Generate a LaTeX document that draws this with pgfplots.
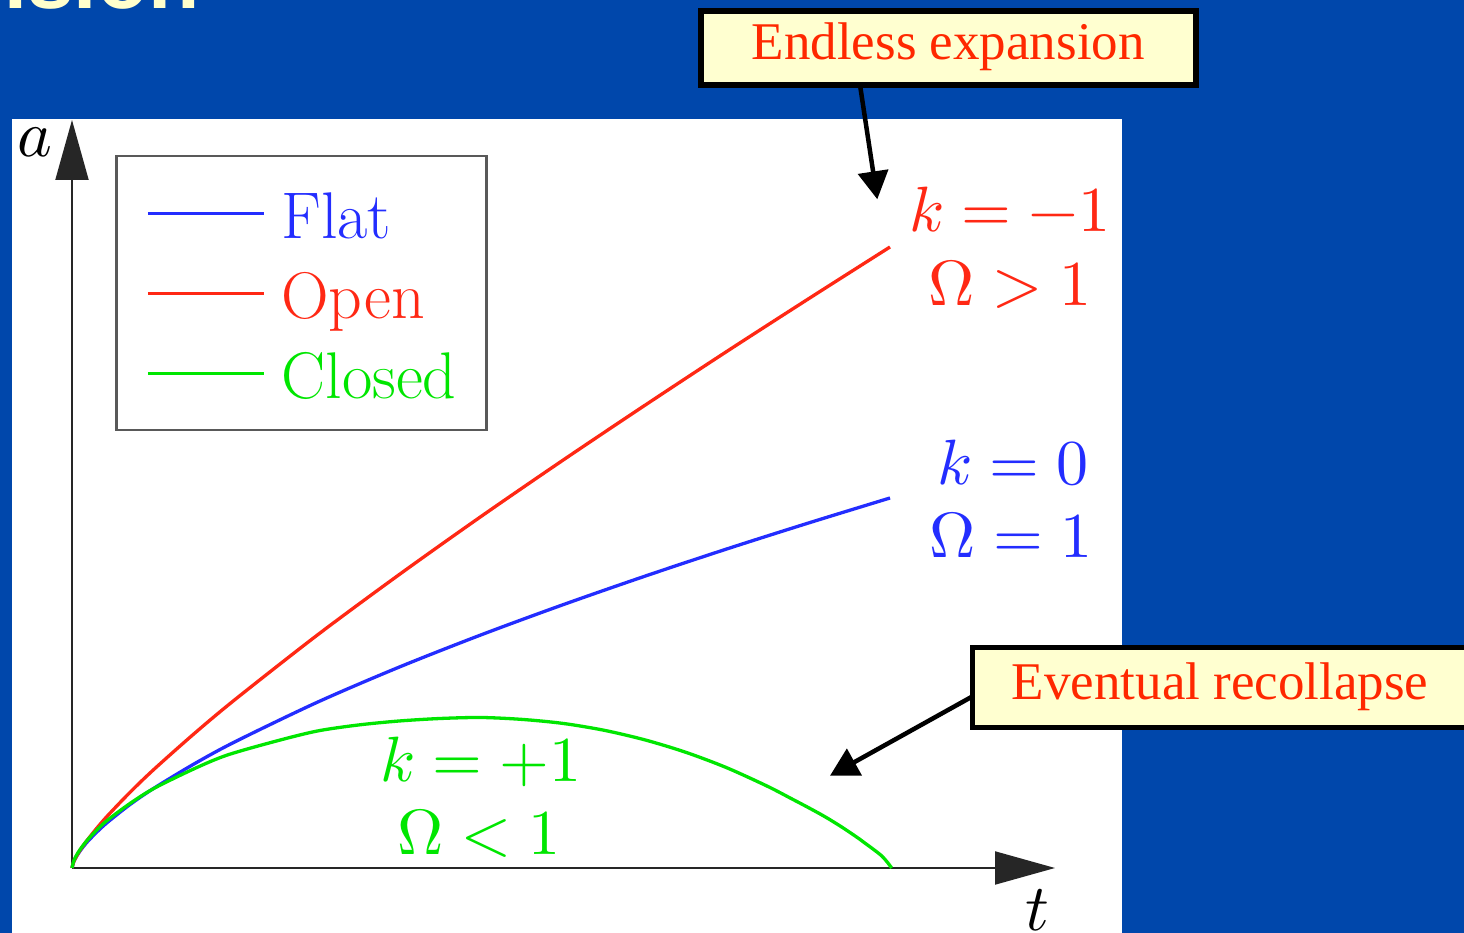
\documentclass[border=0pt]{standalone}
\usepackage{fontspec}
\usepackage{unicode-math}
\setmathfont{Latin Modern Math}
\newfontfamily\timesfont{Liberation Serif}
\newfontfamily\arialfont{Liberation Sans}
\usepackage{pgfplots}
\pgfplotsset{compat=1.18}
\usetikzlibrary{arrows.meta}
\definecolor{slideblue}{RGB}{0,71,171}
\definecolor{cflat}{RGB}{35,45,255}
\definecolor{copen}{RGB}{255,40,20}
\definecolor{cclosed}{RGB}{0,230,0}
\definecolor{callred}{RGB}{255,40,0}
\definecolor{callfill}{RGB}{255,255,208}
\definecolor{cream}{RGB}{255,255,204}
\newcommand\bigfont{\fontsize{64}{77}\selectfont}
\newcommand\legfont{\fontsize{66}{79}\selectfont}
\begin{document}
\begin{tikzpicture}[x=1pt,y=1pt]
\useasboundingbox (0,0) rectangle (1464,933);
\clip (0,0) rectangle (1464,933);
\fill[slideblue] (0,0) rectangle (1464,933);
\fill[white] (12,0) rectangle (1122,814);
\node[anchor=base east, text=cream, font=\arialfont\bfseries\fontsize{84}{100}\selectfont, inner sep=0pt] at (200,924) {Expansion};
\begin{axis}[
  at={(72pt,65pt)}, anchor=south west,
  scale only axis, width=983pt, height=748pt,
  xmin=0, xmax=1.2017, ymin=0, ymax=748,
  enlargelimits=false,
  axis lines=left,
  xtick=\empty, ytick=\empty,
  clip=false,
  axis line style={draw=black!85, line width=2pt, -{Triangle[length=60pt,width=33pt]}},
  every axis x label/.style={at={(axis description cs:0.9817,-0.0561)}, anchor=center},
  every axis y label/.style={at={(axis description cs:-0.0376,0.9706)}, anchor=center},
  label style={font=\legfont},
  xlabel={$t$}, ylabel={$a$},
  legend cell align=left,
  legend style={
    at={(0.04374,0.9532)}, anchor=north west,
    draw=black!65, line width=2.5pt, fill=white,
    inner xsep=30pt, inner ysep=17pt,
    column sep=16pt,
    nodes={inner sep=0pt, text height=65pt, text depth=15pt, font=\legfont},
  },
  legend image code/.code={\draw[#1, line width=3.2pt] (0pt,0pt) -- (116pt,0pt);},
]
\addplot[color=cflat, line width=3.3pt, smooth] coordinates {
(0,0) (0.002,5.9) (0.005,10.8) (0.01,17.2) (0.02,27.3) (0.04,43.3) (0.07,62.9)
(0.1,79.7) (0.15,104.4) (0.2,126.5) (0.3,165.8) (0.4,200.9) (0.5,233.1)
(0.6,263.2) (0.7,291.7) (0.8,318.9) (0.9,344.9) (1.0,370)};
\addlegendentry{\textcolor{cflat}{Flat}}
\addplot[color=copen, line width=3.3pt, smooth] coordinates {
(0,0) (0.002,6.0) (0.005,11.0) (0.01,18.0) (0.02,29.3) (0.04,49.1) (0.07,74.9)
(0.1,98.5) (0.15,134.8) (0.2,168.9) (0.3,233.0) (0.4,293.4) (0.5,351.5)
(0.6,407.7) (0.7,462.5) (0.8,516.3) (0.9,569.0) (1.0,621)};
\addlegendentry{\textcolor{copen}{Open}}
\addplot[color=cclosed, line width=3.3pt, smooth] coordinates {
(0,0) (0.002,6.7) (0.005,12.0) (0.01,18.6) (0.02,29.0) (0.04,45.5) (0.07,64.0)
(0.1,79.5) (0.15,99.5) (0.19,113) (0.25,127) (0.3,137) (0.35,143) (0.4,147)
(0.45,149.5) (0.5,150.5) (0.55,148.6) (0.6,144.6) (0.65,137.8) (0.7,128.2)
(0.75,115.8) (0.8,100.4) (0.85,81.8) (0.88,69.1) (0.9,60.5) (0.92,51.5)
(0.94,41.5) (0.96,30.5) (0.97,24.5) (0.98,18.5) (0.99,12) (0.997,5.5) (1.002,0)};
\addlegendentry{\textcolor{cclosed}{Closed}}
\end{axis}
% curve labels
\node[anchor=base, text=copen, font=\bigfont, inner sep=0pt] at (1010,701) {$k=-1$};
\node[anchor=base, text=copen, font=\bigfont, inner sep=0pt] at (1010,627) {$\Omega>1$};
\node[anchor=base, text=cflat, font=\bigfont, inner sep=0pt] at (1013,448) {$k=0$};
\node[anchor=base, text=cflat, font=\bigfont, inner sep=0pt] at (1011,375) {$\Omega=1$};
\node[anchor=base, text=cclosed, font=\bigfont, inner sep=0pt] at (481,151) {$k=+1$};
\node[anchor=base, text=cclosed, font=\bigfont, inner sep=0pt] at (479,78) {$\Omega<1$};
% callouts
\draw[line width=4.5pt, -{Triangle[length=28pt,width=30pt]}] (860,848) -- (877.3,733.7);
\draw[line width=4.5pt, -{Triangle[length=28pt,width=30pt]}] (975,238) -- (830,157.3);
\draw[line width=5.5pt, fill=callfill] (700.8,922.2) rectangle (1196,848);
\node[anchor=base, text=callred, font=\timesfont\fontsize{53}{60}\selectfont, inner sep=0pt] at (948.3,873) {Endless expansion};
\draw[line width=5.5pt, fill=callfill] (972.5,285.5) rectangle (1485,205.5);
\node[anchor=base west, text=callred, font=\timesfont\fontsize{53}{60}\selectfont, inner sep=0pt] at (1011.7,233) {Eventual recollapse};
\end{tikzpicture}
\end{document}
